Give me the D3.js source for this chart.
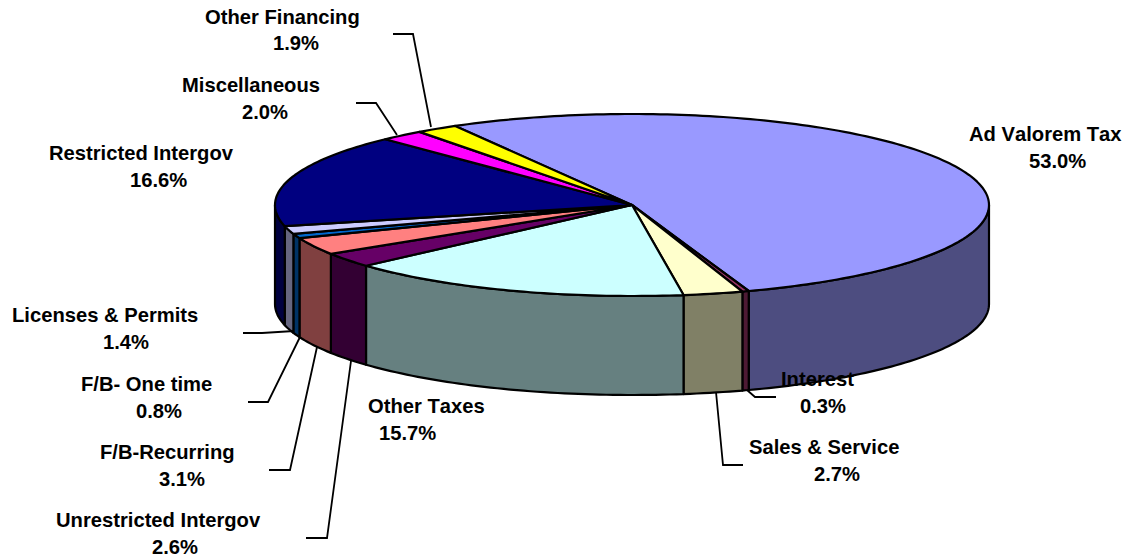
<!DOCTYPE html>
<html>
<head>
<meta charset="utf-8">
<script src="https://cdnjs.cloudflare.com/ajax/libs/d3/7.8.5/d3.min.js"></script>
<style>
html, body { margin: 0; background: #fff; }
svg { display: block; }
text { font-family: "Liberation Sans", Arial, sans-serif; font-weight: bold; font-size: 20.2px; font-kerning: none; fill: #000; }
</style>
</head>
<body>
<div id="chart"></div>
<script>
// values, clockwise from the Ad Valorem slice
var categories = ["Ad Valorem Tax", "Interest", "Sales & Service", "Other Taxes", "Unrestricted Intergov",
	"F/B-Recurring", "F/B- One time", "Licenses & Permits", "Restricted Intergov", "Miscellaneous", "Other Financing"];
var shares = [53.0, 0.3, 2.7, 15.7, 2.6, 3.1, 0.8, 1.4, 16.6, 2.0, 1.9];

var palette = ["#9999ff", "#993366", "#ffffcc", "#ccffff", "#660066", "#ff8080", "#0066cc", "#ccccff", "#000080", "#ff00ff", "#ffff00"];

// label placement, by category: [name x, name baseline, percent x, percent baseline]
var labelPos = {
	"Ad Valorem Tax": [969, 141, 1029, 168],
	"Interest": [781, 386, 800, 413],
	"Sales & Service": [749, 454, 814, 481],
	"Other Taxes": [368, 413, 379, 440],
	"Unrestricted Intergov": [56, 527, 152, 554],
	"F/B-Recurring": [100, 459, 159, 486],
	"F/B- One time": [81, 391, 136, 418],
	"Licenses & Permits": [12, 322, 103, 349],
	"Restricted Intergov": [49, 160, 130, 187],
	"Miscellaneous": [182, 92, 242, 119],
	"Other Financing": [205, 24, 273, 50]
};

// leader lines: points running from the rim out to the label
var leaders = [
	[[747, 390], [755, 397], [776, 397]],
	[[716, 392], [723, 465], [743, 465]],
	[[351, 361], [327, 538], [306, 538]],
	[[317, 347], [290, 470], [269, 470]],
	[[300, 337], [268, 402], [248, 402]],
	[[294, 331], [262, 333], [243, 333]],
	[[397, 135], [376, 103], [356, 103]],
	[[431, 127], [413, 34], [393, 34]]
];

var width = 1128, height = 560;
var cx = 632, cy = 205, rx = 357, ry = 91, depth = 99;
var startDeg = -29.7;

var svg = d3.select("#chart").append("svg")
	.attr("width", width)
	.attr("height", height);

var color = d3.scaleOrdinal().domain(categories).range(palette);

var pie = d3.pie().sort(null)
	.startAngle(startDeg * Math.PI / 180)
	.endAngle((startDeg + 360) * Math.PI / 180);

var slices = pie(shares).map(function(d, i) {
	return { name: categories[i], start: d.startAngle, end: d.endAngle };
});

// angle measured clockwise from north, flattened on to the ellipse
function rim(a, drop) {
	return [cx + rx * Math.sin(a), cy - ry * Math.cos(a) + (drop || 0)];
}

function arcPoints(a0, a1, drop) {
	var n = Math.max(2, Math.ceil((a1 - a0) / 0.02));
	return d3.range(n + 1).map(function(k) {
		return rim(a0 + (a1 - a0) * k / n, drop);
	});
}

// the wall colour is the top colour at half strength
function shade(name) {
	var c = d3.rgb(color(name));
	return d3.rgb(c.r / 2, c.g / 2, c.b / 2).formatHex();
}

var line = d3.line();

// front wall: only what lies between the right and left extremes is seen
var front = slices.map(function(s) {
	var a0 = s.start, a1 = s.end;
	var lo = Math.PI / 2, hi = 3 * Math.PI / 2;
	return { name: s.name, a0: Math.max(a0, lo), a1: Math.min(a1, hi) };
}).filter(function(s) { return s.a1 > s.a0; });

svg.append("g").selectAll("path")
	.data(front)
	.join("path")
	.attr("d", function(s) {
		return line(arcPoints(s.a0, s.a1, 0).concat(arcPoints(s.a0, s.a1, depth).reverse())) + "Z";
	})
	.attr("fill", function(s) { return shade(s.name); })
	.attr("stroke", "#000")
	.attr("stroke-width", 2.2)
	.attr("stroke-linejoin", "round");

// top face
svg.append("g").selectAll("path")
	.data(slices)
	.join("path")
	.attr("d", function(s) {
		return line([[cx, cy]].concat(arcPoints(s.start, s.end, 0))) + "Z";
	})
	.attr("fill", function(s) { return color(s.name); })
	.attr("stroke", "#000")
	.attr("stroke-width", 2.2)
	.attr("stroke-linejoin", "round");

svg.append("g").selectAll("path")
	.data(leaders)
	.join("path")
	.attr("d", line)
	.attr("fill", "none")
	.attr("stroke", "#000")
	.attr("stroke-width", 1.8);

var labels = svg.append("g").selectAll("g")
	.data(slices.map(function(s, i) { return { name: s.name, share: shares[i] }; }))
	.join("g");

labels.append("text")
	.attr("x", function(d) { return labelPos[d.name][0]; })
	.attr("y", function(d) { return labelPos[d.name][1]; })
	.text(function(d) { return d.name; });

labels.append("text")
	.attr("x", function(d) { return labelPos[d.name][2]; })
	.attr("y", function(d) { return labelPos[d.name][3]; })
	.text(function(d) { return d3.format(".1f")(d.share) + "%"; });
</script>
</body>
</html>
